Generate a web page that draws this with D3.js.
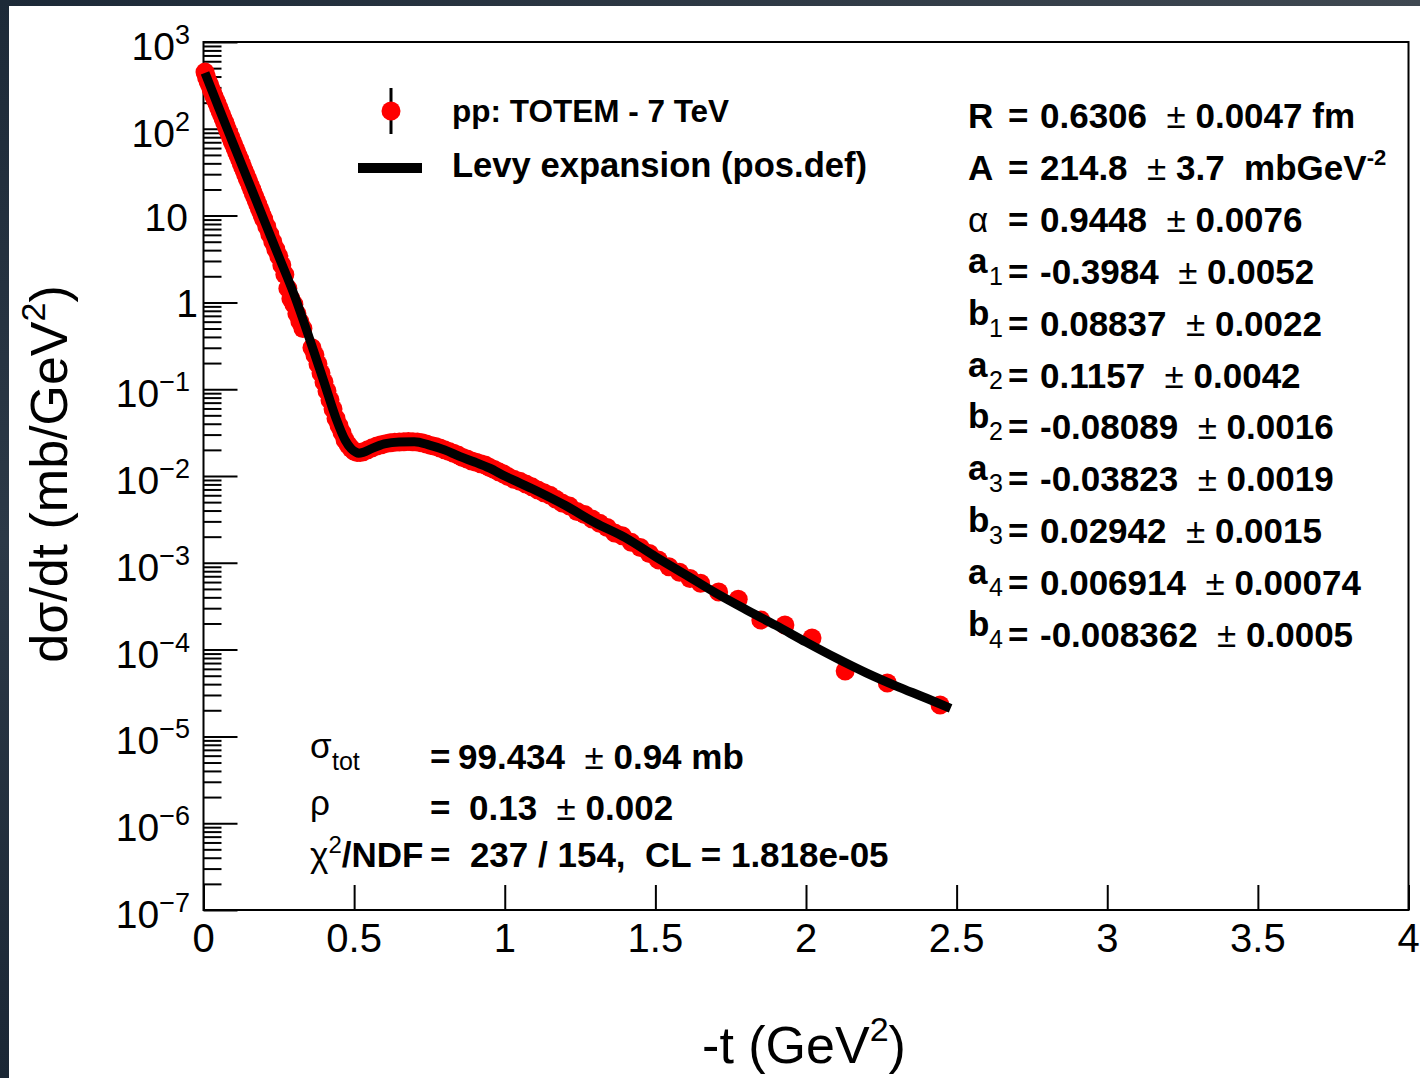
<!DOCTYPE html>
<html><head><meta charset="utf-8">
<script src="https://cdn.jsdelivr.net/npm/d3@7"></script>
<style>
body{margin:0;background:#fff;}
svg{display:block;}
text{font-family:"Liberation Sans",Arial,Helvetica,sans-serif;fill:#000;}
</style>
</head><body>
<svg id="c" width="1420" height="1078"></svg>
<script>
// ---------------- data ----------------
const dataT = [0.005,0.01,0.015,0.02,0.025,0.03,0.035,0.04,0.045,0.05,0.055,0.06,0.065,0.07,0.075,0.08,0.085,0.09,0.095,0.10,
  0.105,0.11,0.115,0.12,0.125,0.13,0.135,0.14,0.145,0.15,0.155,0.16,0.165,0.17,0.175,0.18,0.185,0.19,0.195,0.20,
  0.21,0.22,0.23,0.24,0.25,0.26,0.27,0.28,0.29,0.30,0.31,0.32,0.33,
  0.36,0.37,0.38,0.39,0.40,0.41,0.42,0.43,0.44,0.45,0.46,0.47,0.48,0.49,0.50,0.51,0.52,0.53,0.545,0.56,0.575,0.59,
  0.605,0.62,0.635,0.65,0.665,0.68,0.695,0.71,0.725,0.74,0.755,0.77,0.785,
  0.80,0.815,0.83,0.845,0.86,0.875,0.89,0.905,0.92,0.935,0.95,0.965,0.98,0.995,1.01,1.03,1.05,1.07,1.09,1.11,1.13,1.15,
  1.17,1.19,1.215,1.24,1.265,1.29,1.315,1.34,1.365,1.39,1.42,1.45,1.48,1.51,1.545,1.58,1.615,1.65,1.71,1.775,
  1.85,1.93,2.02,2.13,2.27,2.445];
const dataV = [450,395,352,322,288,262,236,214,196,176,160,145,131,119,108,97,88,80,72,65.5,
  59.5,54,49,44.5,40,36.4,33,29.8,27,24.5,22.2,20.1,18.2,16.5,14.9,13.5,12.2,11.1,10.0,9.1,
  7.5,6.1,5.0,4.1,3.4,2.7,2.1,1.45,1.1,0.95,0.74,0.60,0.50,
  0.30,0.248,0.195,0.154,0.121,0.0955,0.0752,0.059,0.046,0.0379,0.0316,0.026,0.0229,0.0207,0.0193,0.0186,0.0186,0.019,0.020,0.0211,0.0221,0.0229,
  0.0236,0.0241,0.0245,0.0247,0.0248,0.0249,0.0248,0.0247,0.0241,0.0233,0.0225,0.0219,0.021,
  0.0201,0.0192,0.0183,0.0174,0.0163,0.0157,0.0149,0.0144,0.0138,0.0134,0.0125,0.0119,0.0112,0.0106,0.0099,0.0092,0.0087,0.0081,0.0075,0.0069,0.0064,0.0060,
  0.0054,0.0049,0.0045,0.0039,0.0036,0.0032,0.00285,0.00255,0.0022,0.00205,0.00172,0.00150,0.00128,0.00108,0.00090,0.00078,0.00066,0.00058,0.00046,0.00038,
  0.000219,0.000192,0.000136,0.0000566,0.0000412,0.0000230];

const fitT = [0.005,0.05,0.10,0.15,0.20,0.25,0.30,0.35,0.40,0.44,0.47,0.49,0.505,0.515,0.53,0.56,0.60,0.65,0.70,0.75,0.80,0.85,0.90,0.95,
  1.00,1.10,1.20,1.30,1.40,1.50,1.60,1.70,1.80,1.90,2.00,2.10,2.20,2.30,2.40,2.48];
const fitV = [440,177,65.6,24.4,9.06,3.37,1.25,0.40,0.121,0.046,0.026,0.0207,0.0189,0.0183,0.0187,0.0208,0.0234,0.0247,0.0248,0.0227,0.0200,0.0168,0.0145,0.0123,
  0.0100,0.0069,0.0046,0.0029,0.00195,0.00118,0.00073,0.00045,0.00029,0.000190,0.000122,0.0000800,0.0000540,0.0000380,0.0000275,0.0000210];

const xTicks = [0,0.5,1,1.5,2,2.5,3,3.5,4];
const xTickLabels = ["0","0.5","1","1.5","2","2.5","3","3.5","4"];
const yTicks = [1e-7,1e-6,1e-5,1e-4,1e-3,1e-2,1e-1,1,10,100,1000];
const yTickBase = ["10","10","10","10","10","10","10","1","10","10","10"];
const yTickSup = ["\u22127","\u22126","\u22125","\u22124","\u22123","\u22122","\u22121","","","2","3"];

const legendLabels = ["pp: TOTEM - 7 TeV","Levy expansion (pos.def)"];

const parNames  = ["R","A","\u03b1","a","b","a","b","a","b","a","b"];
const parSubs   = ["","","","1","1","2","2","3","3","4","4"];
const parValues = ["0.6306","214.8","0.9448","-0.3984","0.08837","0.1157","-0.08089","-0.03823","0.02942","0.006914","-0.008362"];
const parErrors = ["0.0047","3.7","0.0076","0.0052","0.0022","0.0042","0.0016","0.0019","0.0015","0.00074","0.0005"];
const parUnits  = ["fm","mbGeV","","","","","","","","",""];
const parUnitSup= ["","-2","","","","","","","","",""];

const sumNames  = ["\u03c3","\u03c1"];
const sumSubs   = ["tot",""];
const sumValues = ["99.434","0.13"];
const sumErrors = ["0.94","0.002"];
const sumUnits  = ["mb",""];
const chi2 = "237", ndf = "154", clText = "1.818e-05";

const xTitle = "-t (GeV", yTitle = "d\u03c3/dt (mb/GeV";

// ---------------- drawing ----------------
const W = 1420, H = 1078;
const svg = d3.select("#c");
svg.append("rect").attr("width", W).attr("height", H).attr("fill", "#fff");
const defs = svg.append("defs");
const tg = defs.append("linearGradient").attr("id","topg").attr("x1",0).attr("x2",1).attr("y1",0).attr("y2",0);
tg.append("stop").attr("offset",0).attr("stop-color","#1c2937");
tg.append("stop").attr("offset",1).attr("stop-color","#3f4851");
const lg = defs.append("linearGradient").attr("id","leftg").attr("x1",0).attr("x2",0).attr("y1",0).attr("y2",1);
lg.append("stop").attr("offset",0).attr("stop-color","#1d2a38");
lg.append("stop").attr("offset",0.5).attr("stop-color","#2c3947");
lg.append("stop").attr("offset",1).attr("stop-color","#1b2735");
svg.append("rect").attr("x",0).attr("y",0).attr("width",W).attr("height",6).attr("fill","url(#topg)");
svg.append("rect").attr("x",0).attr("y",0).attr("width",9).attr("height",H).attr("fill","url(#leftg)");

const x = d3.scaleLinear().domain([0,4]).range([203.5,1408.5]);
const y = d3.scaleLog().domain([1e-7,1e3]).range([910,42]);

// minor log ticks
const minors = [];
for (let k = -7; k < 3; k++) for (let m = 2; m <= 9; m++) minors.push(m * Math.pow(10, k));

const yMinor = svg.append("g").attr("transform","translate(203.5,0)")
  .call(d3.axisLeft(y).tickValues(minors).tickSize(-18).tickFormat(""));
const yMajor = svg.append("g").attr("transform","translate(203.5,0)")
  .call(d3.axisLeft(y).tickValues(yTicks).tickSize(-34).tickFormat(""));
const xAx = svg.append("g").attr("transform","translate(0,910)")
  .call(d3.axisBottom(x).tickValues(xTicks).tickSize(-25).tickFormat(""));
[yMinor,yMajor,xAx].forEach(g=>{
  g.select(".domain").remove();
  g.selectAll("line").attr("stroke","#000").attr("stroke-width",2);
});

// frame
svg.append("rect").attr("x",203.5).attr("y",42).attr("width",1205).attr("height",868)
  .attr("fill","none").attr("stroke","#000").attr("stroke-width",2);

// x tick labels
svg.append("g").selectAll("text").data(xTicks).join("text")
  .attr("x", d => x(d)).attr("y", 952).attr("text-anchor","middle")
  .attr("font-size",40).text((d,i)=>xTickLabels[i]);

// y tick labels
const yl = svg.append("g");
yTicks.forEach((v,i)=>{
  const t = yl.append("text").attr("text-anchor","end").attr("font-size",39);
  if (yTickSup[i] === "") {
    t.attr("x", yTickBase[i] === "1" ? 198 : 188).attr("y", y(v) + 15).text(yTickBase[i]);
  } else {
    t.attr("x", 190).attr("y", y(v) + 18);
    t.append("tspan").text(yTickBase[i]);
    t.append("tspan").attr("font-size",27).attr("dy",-16).text(yTickSup[i]);
  }
});

// data points
svg.append("g").selectAll("circle").data(dataT).join("circle")
  .attr("cx", d => x(d)).attr("cy", (d,i) => y(dataV[i])).attr("r", 9.5).attr("fill","#ff0000");

// fit curve
const line = d3.line().x(d => x(d[0])).y(d => y(d[1])).curve(d3.curveMonotoneX);
svg.append("path").datum(fitT.map((t,i)=>[t,fitV[i]])).attr("d", line)
  .attr("fill","none").attr("stroke","#000").attr("stroke-width",9).attr("stroke-linejoin","round");

// legend
svg.append("line").attr("x1",391).attr("x2",391).attr("y1",88).attr("y2",134).attr("stroke","#000").attr("stroke-width",3);
svg.append("circle").attr("cx",391).attr("cy",111).attr("r",9.5).attr("fill","#ff0000");
svg.append("line").attr("x1",358).attr("x2",422).attr("y1",168).attr("y2",168).attr("stroke","#000").attr("stroke-width",10);
svg.append("text").attr("x",452).attr("y",122).attr("font-size",31.5).attr("font-weight","bold").text(legendLabels[0]);
svg.append("text").attr("x",452).attr("y",177).attr("font-size",34.6).attr("font-weight","bold").text(legendLabels[1]);

// parameter box
const NB = "\u00A0";
const FS = 35;
parNames.forEach((nm,i)=>{
  const yb = 128 + i * 51.9;
  const hasSub = parSubs[i] !== "";
  svg.append("text").attr("x",968).attr("y", hasSub ? yb - 11 : yb).attr("font-size",FS)
    .attr("font-weight", nm === "\u03b1" ? "normal" : "bold").text(nm);
  if (hasSub) svg.append("text").attr("x",989).attr("y",yb+1).attr("font-size",25).text(parSubs[i]);
  svg.append("text").attr("x",1008).attr("y",yb).attr("font-size",FS).attr("font-weight","bold").text("=");
  const t = svg.append("text").attr("x",1040).attr("y",yb).attr("font-size",FS).attr("font-weight","bold");
  t.append("tspan").text(parValues[i] + NB + NB);
  t.append("tspan").attr("font-weight","normal").text("\u00b1");
  t.append("tspan").text(NB + parErrors[i]);
  if (parUnits[i]) t.append("tspan").text((parUnitSup[i] ? NB+NB : NB) + parUnits[i]);
  if (parUnitSup[i]) t.append("tspan").attr("font-size",22).attr("dy",-15).text(parUnitSup[i]);
});

// summary (bottom-left)
sumNames.forEach((nm,i)=>{
  const yb = 769 + i * 51;
  const hasSub = sumSubs[i] !== "";
  svg.append("text").attr("x",310).attr("y", hasSub ? yb - 11 : yb - 5).attr("font-size",FS).text(nm);
  if (hasSub) svg.append("text").attr("x",332).attr("y",yb+1).attr("font-size",25).text(sumSubs[i]);
  svg.append("text").attr("x",430).attr("y",yb).attr("font-size",FS).attr("font-weight","bold").text("=");
  const t = svg.append("text").attr("x", i === 0 ? 458 : 469).attr("y",yb).attr("font-size",FS).attr("font-weight","bold");
  t.append("tspan").text(sumValues[i] + NB + NB);
  t.append("tspan").attr("font-weight","normal").text("\u00b1");
  t.append("tspan").text(NB + sumErrors[i] + (sumUnits[i] ? NB + sumUnits[i] : ""));
});
{
  const yb = 867;
  const t = svg.append("text").attr("x",310).attr("y",yb).attr("font-size",FS);
  t.append("tspan").text("\u03c7");
  t.append("tspan").attr("font-size",24).attr("dy",-14).text("2");
  t.append("tspan").attr("dy",14).attr("font-weight","bold").text("/NDF");
  svg.append("text").attr("x",430).attr("y",yb).attr("font-size",FS).attr("font-weight","bold")
    .text("=" + NB + NB + chi2 + " / " + ndf + "," + NB + NB + "CL = " + clText);
}

// axis titles
const yt = svg.append("text").attr("transform","translate(67,474) rotate(-90)")
  .attr("text-anchor","middle").attr("font-size",52);
yt.append("tspan").text(yTitle);
yt.append("tspan").attr("font-size",34).attr("dy",-22).text("2");
yt.append("tspan").attr("dy",22).text(")");

const xt = svg.append("text").attr("x",804).attr("y",1063).attr("text-anchor","middle").attr("font-size",52);
xt.append("tspan").text(xTitle);
xt.append("tspan").attr("font-size",34).attr("dy",-22).text("2");
xt.append("tspan").attr("dy",22).text(")");
</script>
</body></html>
